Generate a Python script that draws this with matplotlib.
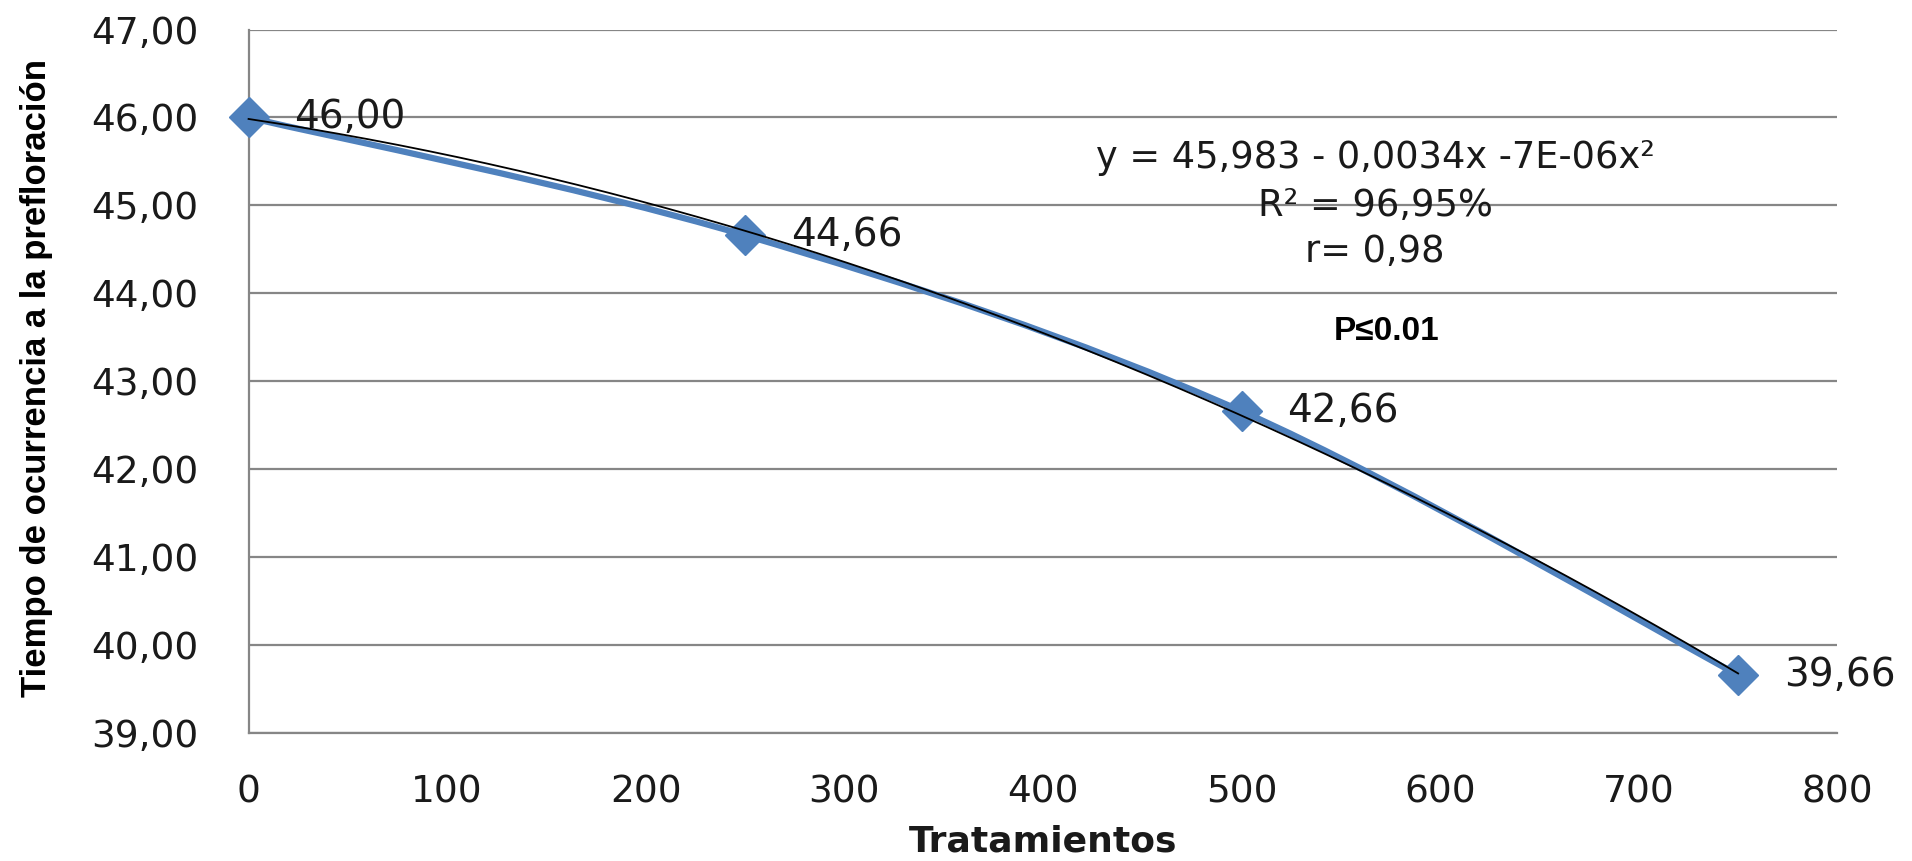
import numpy as np
import matplotlib
matplotlib.use("Agg")
import matplotlib.pyplot as plt
from matplotlib.path import Path
from matplotlib.patches import PathPatch

# Data
tratamientos = [0, 250, 500, 750]
tiempo = [46.00, 44.66, 42.66, 39.66]
data_labels = ["46,00", "44,66", "42,66", "39,66"]
y_ticks = [39, 40, 41, 42, 43, 44, 45, 46, 47]
y_tick_labels = ["39,00", "40,00", "41,00", "42,00", "43,00", "44,00", "45,00", "46,00", "47,00"]
x_ticks = [0, 100, 200, 300, 400, 500, 600, 700, 800]
equation_lines = ["y = 45,983 - 0,0034x -7E-06x²", "R² = 96,95%", "r= 0,98"]
p_text = "P≤0.01"

fig = plt.figure(figsize=(19.12, 8.61), dpi=100)
ax = fig.add_axes([0.130, 0.1487, 0.831, 0.817])

grid_c = "#868686"
blue = "#4F81BD"

ax.set_xlim(0, 800)
ax.set_ylim(39, 47)
ax.set_yticks(y_ticks)
ax.set_yticklabels(y_tick_labels)
ax.set_xticks(x_ticks)
ax.set_xticklabels([str(v) for v in x_ticks])
ax.yaxis.grid(True, color=grid_c, linewidth=1.6, zorder=0)
ax.set_axisbelow(True)
for s in ["top", "right"]:
    ax.spines[s].set_visible(False)
for s in ["left", "bottom"]:
    ax.spines[s].set_color(grid_c)
    ax.spines[s].set_linewidth(1.6)
ax.tick_params(axis="both", length=0, labelsize=27, labelcolor="#1a1a1a",
               labelfontfamily="DejaVu Sans")
ax.tick_params(axis="y", pad=36)
ax.tick_params(axis="x", pad=30)

# smoothed (Bezier, Catmull-Rom style) line through the data points, like Excel's smoothed line
px = np.array(tratamientos, dtype=float)
py = np.array(tiempo, dtype=float)
verts = [(px[0], py[0])]
codes = [Path.MOVETO]
n = len(px)
for i in range(n - 1):
    p0 = np.array([px[max(i - 1, 0)], py[max(i - 1, 0)]])
    p1 = np.array([px[i], py[i]])
    p2 = np.array([px[i + 1], py[i + 1]])
    p3 = np.array([px[min(i + 2, n - 1)], py[min(i + 2, n - 1)]])
    c1 = p1 + (p2 - p0) / 6.0
    c2 = p2 - (p3 - p1) / 6.0
    verts += [tuple(c1), tuple(c2), tuple(p2)]
    codes += [Path.CURVE4, Path.CURVE4, Path.CURVE4]
ax.add_patch(PathPatch(Path(verts, codes), facecolor="none", edgecolor=blue,
                       linewidth=4.5, zorder=3, clip_on=False))
ax.plot(tratamientos, tiempo, linestyle="none", marker="D", markersize=20,
        markerfacecolor=blue, markeredgecolor=blue, zorder=3, clip_on=False)

# polynomial trend line (order 2) computed from the data
coef = np.polyfit(tratamientos, tiempo, 2)
xs = np.linspace(0, 750, 200)
ax.plot(xs, np.polyval(coef, xs), color="black", linewidth=1.3, zorder=4,
        clip_on=False)

offsets = [(33, 0), (33, 0), (33, 0), (33, 0)]
for xv, yv, lab, off in zip(tratamientos, tiempo, data_labels, offsets):
    ax.annotate(lab, (xv, yv), xytext=off, textcoords="offset points",
                ha="left", va="center", fontsize=28, color="#1a1a1a",
                family="DejaVu Sans", zorder=5, annotation_clip=False)

eq_y = [158, 205, 252]
for txt, yp in zip(equation_lines, eq_y):
    fig.text(1375 / 1912, 1 - yp / 861, txt, ha="center", va="center",
             fontsize=26.5, family="DejaVu Sans", color="#1a1a1a")
fig.text(1387 / 1912, 1 - 332 / 861, p_text, ha="center", va="center",
         fontsize=24, family="Liberation Sans", fontweight="bold", color="black")

fig.text(1043 / 1912, 1 - 842 / 861, "Tratamientos", ha="center", va="center",
         fontsize=26, family="DejaVu Sans", fontweight="bold", color="#1a1a1a")
fig.text(37 / 1912, 1 - 378 / 861, "Tiempo de ocurrencia a la prefloración",
         ha="center", va="center", rotation=90, fontsize=25,
         family="Liberation Sans", fontweight="bold", color="black")

fig.savefig("out.png", dpi=100, facecolor="white")
